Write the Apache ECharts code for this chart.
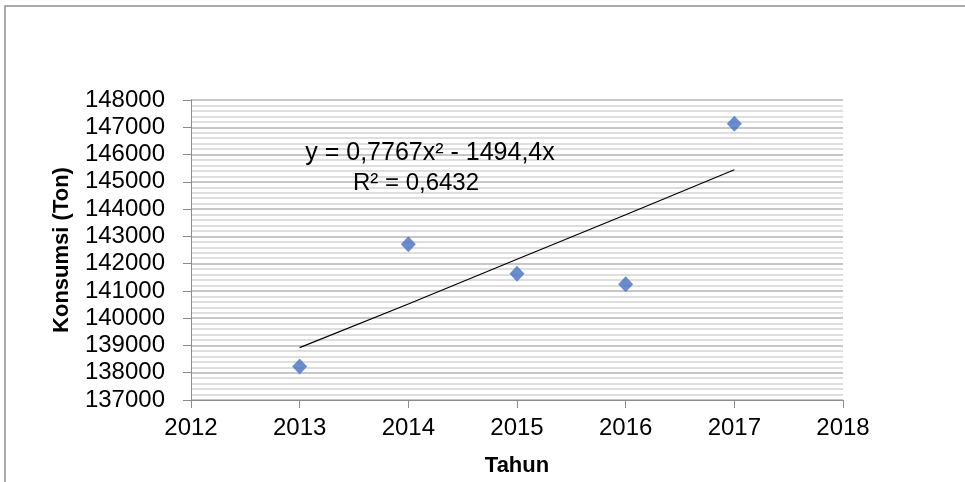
<!DOCTYPE html>
<html>
<head>
<meta charset="utf-8">
<script src="https://cdn.jsdelivr.net/npm/echarts@6/dist/echarts.min.js"></script>
<style>
html,body{margin:0;padding:0;background:#fff;}
#c{width:965px;height:482px;}
</style>
</head>
<body>
<div id="c"></div>
<script>
// Data
var years = [2013, 2014, 2015, 2016, 2017];
var konsumsi = [138230, 142710, 141630, 141240, 147130];
var trendValues = [138920, 140520, 142160, 143790, 145440];
var xAxisLabels = ['2012', '2013', '2014', '2015', '2016', '2017', '2018'];
var equationText = 'y = 0,7767x\u00B2 - 1494,4x';
var r2Text = 'R\u00B2 = 0,6432';

var FONT = 'Liberation Sans';
var chart = echarts.init(document.getElementById('c'), null, {renderer: 'canvas'});

var scatterData = years.map(function (y, i) { return [y, konsumsi[i]]; });
var trendData = years.map(function (y, i) { return [y, trendValues[i]]; });

var option = {
  backgroundColor: '#ffffff',
  animation: false,
  textStyle: {fontFamily: FONT},
  grid: {left: 191, right: 122, top: 100, bottom: 80, containLabel: false},
  xAxis: {
    type: 'value',
    min: 2012, max: 2018, interval: 1,
    name: 'Tahun',
    nameLocation: 'middle',
    nameGap: 55,
    nameTextStyle: {fontFamily: FONT, fontSize: 22, fontWeight: 'bold', color: '#000'},
    axisLine: {show: true, lineStyle: {color: '#8c8c8c', width: 1}},
    axisTick: {show: true, inside: false, length: 8, lineStyle: {color: '#8c8c8c'}},
    axisLabel: {fontFamily: FONT, fontSize: 24, color: '#000', margin: 16,
      formatter: function (v) { return xAxisLabels[Math.round(v - 2012)]; }},
    splitLine: {show: false}
  },
  yAxis: {
    type: 'value',
    min: 137000, max: 148000, interval: 1000,
    name: 'Konsumsi (Ton)',
    nameLocation: 'middle',
    nameGap: 118,
    nameTextStyle: {fontFamily: FONT, fontSize: 22, fontWeight: 'bold', color: '#000'},
    axisLine: {show: true, lineStyle: {color: '#8c8c8c', width: 1}},
    axisTick: {show: true, inside: false, length: 8, lineStyle: {color: '#8c8c8c'}},
    axisLabel: {fontFamily: FONT, fontSize: 24, color: '#000', margin: 26,
      formatter: function (v) { return String(v); }},
    splitLine: {show: true, lineStyle: {color: '#b4b4b4', width: 1.5}},
    minorTick: {show: false, splitNumber: 5},
    minorSplitLine: {show: true, lineStyle: {color: '#d4d4d4', width: 1.5}}
  },
  series: [
    {
      type: 'line',
      data: trendData,
      showSymbol: false,
      symbol: 'none',
      lineStyle: {color: '#000', width: 1.2},
      z: 2,
      silent: true
    },
    {
      type: 'scatter',
      data: scatterData,
      symbol: 'diamond',
      symbolSize: [15, 16],
      itemStyle: {color: '#4472c4'},
      z: 3
    }
  ],
  graphic: [
    {
      type: 'rect',
      shape: {x: 5, y: 6, width: 1100, height: 1000},
      style: {fill: 'none', stroke: '#8f8f8f', lineWidth: 1.5},
      silent: true
    },
    {
      type: 'text',
      x: 430, y: 153,
      style: {text: equationText, fontFamily: FONT, fontSize: 25, fill: '#000', align: 'center', verticalAlign: 'middle'},
      z: 10
    },
    {
      type: 'text',
      x: 416, y: 183,
      style: {text: r2Text, fontFamily: FONT, fontSize: 24, fill: '#000', align: 'center', verticalAlign: 'middle'},
      z: 10
    }
  ]
};
chart.setOption(option);
</script>
</body>
</html>
